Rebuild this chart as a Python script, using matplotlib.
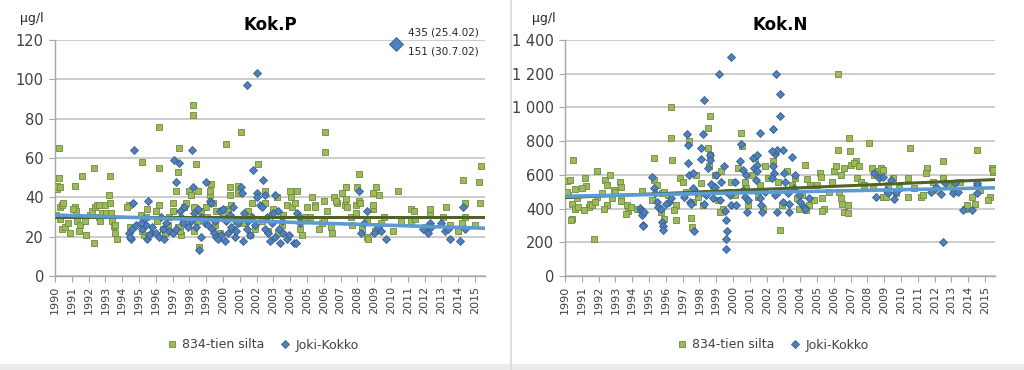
import numpy as np
import matplotlib
matplotlib.use("Agg")
import matplotlib.pyplot as plt
from matplotlib.ticker import FuncFormatter
from matplotlib.lines import Line2D
from matplotlib.patches import Rectangle

# Kok.P, 834-tien silta (year, ug/l)
p_silta = [
    (1990.05, 31), (1990.1, 44), (1990.12, 46), (1990.25, 65), (1990.25, 50), (1990.3, 45),
    (1990.3, 35), (1990.4, 36), (1990.5, 37), (1990.3, 29), (1990.4, 24), (1990.6, 25),
    (1990.8, 27), (1990.9, 22), (1991.2, 35), (1991.25, 33), (1991.2, 46), (1991.6, 51),
    (1991.1, 34), (1991.3, 28), (1991.5, 26), (1991.45, 23), (1991.8, 28), (1991.85, 21),
    (1992.1, 31), (1992.2, 33), (1992.4, 35), (1992.3, 55), (1992.35, 17), (1992.6, 30),
    (1992.65, 28), (1992.5, 36), (1992.62, 36), (1992.8, 32), (1993.0, 36), (1993.05, 32),
    (1993.2, 41), (1993.25, 51), (1993.25, 37), (1993.4, 28), (1993.5, 25.5), (1993.6, 22),
    (1993.7, 19), (1993.55, 26), (1993.35, 32), (1994.4, 36), (1994.45, 25), (1994.3, 35),
    (1995.2, 58), (1995.1, 31), (1995.25, 26), (1995.4, 30), (1995.3, 21), (1995.5, 34),
    (1995.15, 23), (1996.2, 76), (1996.2, 55), (1996.22, 36), (1996.0, 33), (1996.1, 28),
    (1996.4, 24), (1996.7, 26), (1996.55, 22), (1996.8, 30), (1997.0, 33), (1997.05, 37),
    (1997.2, 43), (1997.4, 65), (1997.35, 53), (1997.5, 21), (1997.45, 23), (1997.7, 35),
    (1997.8, 37), (1997.3, 25), (1997.6, 28), (1998.0, 43), (1998.1, 41), (1998.2, 87),
    (1998.2, 82), (1998.4, 57), (1998.3, 35), (1998.25, 23), (1998.5, 43), (1998.7, 33),
    (1998.6, 15), (1998.45, 28), (1999.0, 35), (1999.05, 30), (1999.2, 41), (1999.22, 43),
    (1999.4, 37), (1999.6, 33), (1999.3, 47), (1999.5, 26), (1999.8, 22), (2000.2, 67),
    (2000.4, 45), (2000.42, 41), (2000.0, 31), (2000.3, 34), (2000.5, 36), (2000.8, 28),
    (2000.9, 46), (2000.92, 42), (2000.6, 24), (2001.1, 73), (2001.3, 30), (2001.5, 33),
    (2001.7, 37), (2001.9, 24), (2001.2, 27), (2001.6, 21), (2002.1, 57), (2002.5, 43),
    (2002.52, 37), (2002.9, 31), (2002.3, 28), (2002.7, 23), (2003.0, 34), (2003.2, 40),
    (2003.5, 26), (2003.55, 31), (2003.3, 22), (2003.8, 36), (2004.0, 43), (2004.05, 40),
    (2004.1, 35), (2004.4, 43), (2004.3, 37), (2004.9, 30), (2004.6, 24), (2004.7, 21),
    (2005.0, 35), (2005.3, 40), (2005.45, 36), (2005.5, 35), (2005.7, 24), (2005.2, 30),
    (2005.9, 27), (2006.1, 73), (2006.1, 63), (2006.0, 38), (2006.02, 28), (2006.2, 33),
    (2006.6, 40), (2006.8, 37), (2006.7, 38), (2006.4, 25), (2006.5, 22), (2007.1, 42),
    (2007.35, 45), (2007.3, 39), (2007.25, 36), (2007.4, 35), (2007.6, 30), (2007.9, 36),
    (2007.92, 32), (2007.7, 26), (2008.1, 52), (2008.0, 45), (2008.12, 38), (2008.15, 37),
    (2008.3, 24), (2008.6, 28), (2008.9, 34), (2008.6, 20), (2008.65, 19), (2008.9, 42),
    (2008.95, 36), (2009.1, 45), (2009.3, 41), (2009.05, 23), (2009.4, 27), (2009.6, 30),
    (2010.4, 43), (2010.1, 23), (2010.6, 28), (2011.2, 34), (2011.35, 33), (2011.22, 28),
    (2011.4, 29), (2012.3, 34), (2012.35, 31), (2012.0, 25), (2013.25, 35), (2013.1, 30),
    (2013.5, 26), (2014.3, 49), (2014.4, 37), (2014.42, 30), (2014.0, 23), (2014.2, 27),
    (2015.35, 56), (2015.25, 48), (2015.27, 37), (2015.0, 26),
]

# Kok.P, Joki-Kokko
p_kokko = [
    (1994.4, 22), (1994.5, 19), (1994.45, 20), (1994.6, 24), (1994.62, 37), (1994.7, 64),
    (1994.8, 26), (1995.2, 24), (1995.5, 19), (1995.7, 22), (1995.4, 26), (1995.3, 29),
    (1995.52, 38), (1995.6, 21), (1995.1, 27), (1995.8, 25), (1996.0, 22), (1996.2, 20),
    (1996.4, 24), (1996.6, 27), (1996.3, 30), (1996.5, 19), (1996.8, 23), (1997.0, 22),
    (1997.2, 24), (1997.1, 59), (1997.4, 57.5), (1997.22, 48), (1997.42, 33), (1997.5, 30),
    (1997.6, 27), (1997.7, 35), (1997.9, 25), (1998.15, 64), (1998.2, 45), (1998.3, 32),
    (1998.1, 28), (1998.4, 25), (1998.55, 13), (1998.5, 34), (1998.7, 30), (1998.72, 20),
    (1998.9, 27), (1999.0, 48), (1999.2, 38), (1999.3, 37), (1999.1, 26), (1999.32, 24),
    (1999.45, 22), (1999.6, 20), (1999.7, 19), (1999.8, 33), (1999.5, 28), (1999.9, 21),
    (2000.0, 34), (2000.1, 18), (2000.3, 22), (2000.2, 28), (2000.4, 31), (2000.5, 25),
    (2000.7, 20), (2000.6, 35), (2000.8, 23), (2000.9, 27), (2001.1, 45), (2001.15, 42),
    (2001.25, 32), (2001.2, 18), (2001.4, 24), (2001.5, 28), (2001.45, 97), (2001.8, 54),
    (2001.6, 21), (2001.9, 26), (2001.7, 30), (2002.0, 103), (2002.02, 42), (2002.05, 40),
    (2002.4, 49), (2002.2, 36), (2002.5, 41), (2002.3, 35), (2002.52, 24), (2002.7, 22),
    (2002.8, 18), (2002.6, 30), (2002.9, 27), (2003.1, 41), (2003.0, 32), (2003.12, 20),
    (2003.3, 33), (2003.32, 24), (2003.4, 17), (2003.6, 22), (2003.5, 28), (2003.8, 19),
    (2003.9, 21), (2004.2, 17), (2004.4, 32), (2004.5, 30), (2004.6, 27), (2004.35, 17),
    (2008.1, 43), (2008.6, 33), (2008.2, 22), (2008.4, 27), (2009.0, 22), (2009.4, 23),
    (2009.7, 19), (2009.2, 25), (2011.9, 24), (2012.2, 22), (2012.3, 27), (2012.4, 25),
    (2013.0, 27), (2013.2, 23), (2013.5, 19), (2013.4, 24), (2014.1, 18), (2014.3, 35),
    (2014.4, 24),
]

# Kok.N, 834-tien silta
n_silta = [
    (1990.1, 562), (1990.3, 570), (1990.5, 690), (1990.6, 517), (1990.4, 425), (1990.6, 395),
    (1990.8, 410), (1990.4, 340), (1990.35, 330), (1990.2, 480), (1990.1, 500), (1990.7, 460),
    (1991.2, 583), (1991.22, 532), (1991.4, 410), (1991.5, 430), (1991.6, 420), (1991.7, 217),
    (1991.9, 620), (1991.0, 520), (1991.92, 470), (1991.1, 390), (1991.8, 440), (1992.4, 570),
    (1992.7, 600), (1992.5, 540), (1992.52, 420), (1992.2, 490), (1992.9, 510), (1992.3, 400),
    (1992.8, 460), (1993.3, 555), (1993.32, 525), (1993.34, 470), (1993.35, 445), (1993.7, 420),
    (1993.72, 385), (1993.0, 500), (1993.6, 370), (1993.9, 410), (1994.6, 503), (1994.3, 400),
    (1995.3, 700), (1995.32, 570), (1995.5, 540), (1995.8, 490), (1995.9, 500), (1995.2, 450),
    (1995.7, 380), (1995.92, 340), (1996.3, 1000), (1996.32, 820), (1996.34, 690), (1996.6, 420),
    (1996.62, 330), (1996.85, 580), (1996.1, 480), (1996.5, 390), (1997.4, 800), (1997.5, 345),
    (1997.55, 290), (1997.0, 560), (1997.2, 500), (1997.6, 440), (1997.8, 600), (1997.9, 470),
    (1998.65, 950), (1998.5, 880), (1998.52, 760), (1998.6, 720), (1998.54, 650), (1998.1, 550),
    (1998.3, 490), (1998.2, 420), (1998.9, 600), (1998.8, 530), (1999.4, 400), (1999.1, 450),
    (1999.7, 500), (1999.9, 560), (1999.3, 620), (1999.2, 380), (2000.5, 850), (2000.52, 770),
    (2000.3, 640), (2000.7, 560), (2000.1, 480), (2000.9, 420), (2000.8, 520), (2001.3, 700),
    (2001.1, 600), (2001.6, 540), (2001.5, 470), (2001.8, 400), (2001.9, 650), (2002.4, 680),
    (2002.1, 580), (2002.6, 500), (2002.9, 420), (2002.8, 270), (2002.7, 560), (2003.2, 620),
    (2003.5, 540), (2003.8, 460), (2003.9, 400), (2003.7, 580), (2004.3, 660), (2004.4, 575),
    (2004.6, 540), (2004.5, 420), (2004.32, 390), (2004.1, 480), (2004.8, 450), (2005.2, 610),
    (2005.25, 590), (2005.0, 540), (2005.3, 460), (2005.4, 400), (2005.32, 385), (2005.7, 500),
    (2005.9, 560), (2006.25, 1200), (2006.27, 750), (2006.0, 620), (2006.1, 650), (2006.4, 600),
    (2006.6, 640), (2006.3, 500), (2006.45, 460), (2006.5, 430), (2006.62, 380), (2006.85, 420),
    (2006.87, 375), (2006.9, 820), (2006.95, 740), (2007.0, 660), (2007.3, 680), (2007.2, 670),
    (2007.5, 650), (2007.4, 580), (2007.6, 560), (2007.8, 540), (2008.1, 790), (2008.3, 640),
    (2008.4, 600), (2008.6, 620), (2008.8, 640), (2008.95, 630), (2008.32, 520), (2008.9, 470),
    (2009.1, 470), (2009.2, 540), (2009.5, 580), (2009.7, 490), (2009.9, 520), (2010.55, 760),
    (2010.4, 580), (2010.42, 470), (2010.8, 520), (2011.55, 640), (2011.5, 610), (2011.2, 470),
    (2011.3, 480), (2011.9, 560), (2012.5, 680), (2012.52, 580), (2012.2, 510), (2012.8, 540),
    (2013.1, 520), (2013.8, 400), (2013.9, 420), (2013.5, 560), (2014.5, 750), (2014.7, 510),
    (2014.4, 430), (2014.2, 470), (2015.4, 640), (2015.45, 615), (2015.5, 630), (2015.3, 470),
    (2015.15, 450),
]

# Kok.N, Joki-Kokko
n_kokko = [
    (1994.45, 405), (1994.5, 385), (1994.6, 360), (1994.7, 380), (1994.62, 305), (1994.65, 295),
    (1995.15, 590), (1995.3, 520), (1995.35, 490), (1995.5, 440), (1995.55, 410), (1995.8, 320),
    (1995.82, 295), (1995.85, 270), (1995.7, 400), (1996.2, 440), (1996.3, 460), (1996.0, 430),
    (1997.25, 840), (1997.3, 780), (1997.32, 670), (1997.4, 600), (1997.1, 470), (1997.42, 440),
    (1997.5, 430), (1997.65, 266), (1997.8, 500), (1997.6, 520), (1997.62, 610), (1998.25, 1045),
    (1998.2, 840), (1998.1, 760), (1998.12, 695), (1998.6, 720), (1998.62, 690), (1998.5, 640),
    (1998.7, 545), (1998.9, 525), (1998.4, 480), (1998.3, 430), (1998.8, 460), (1999.15, 1200),
    (1999.45, 650), (1999.2, 453), (1999.5, 384), (1999.6, 335), (1999.62, 266), (1999.6, 217),
    (1999.58, 162), (1999.3, 560), (1999.8, 480), (1999.9, 420), (1999.0, 600), (1999.9, 1300),
    (2000.5, 785), (2000.4, 680), (2000.6, 630), (2000.8, 600), (2000.62, 510), (2000.7, 470),
    (2000.82, 380), (2000.2, 420), (2000.1, 560), (2000.9, 450), (2001.6, 850), (2001.2, 700),
    (2001.22, 640), (2001.4, 720), (2001.42, 660), (2001.45, 620), (2001.38, 570), (2001.62, 460),
    (2001.65, 420), (2001.7, 380), (2001.9, 500), (2002.4, 870), (2002.55, 1200), (2002.5, 725),
    (2002.6, 750), (2002.3, 740), (2002.35, 650), (2002.42, 610), (2002.32, 580), (2002.52, 480),
    (2002.62, 380), (2002.95, 440), (2002.8, 1080), (2002.82, 950), (2003.0, 750), (2003.5, 705),
    (2003.02, 610), (2003.1, 560), (2003.3, 490), (2003.32, 430), (2003.35, 380), (2003.6, 520),
    (2004.0, 440), (2004.2, 410), (2003.7, 600), (2003.9, 480), (2004.3, 400), (2004.5, 460),
    (2008.4, 610), (2008.7, 580), (2008.9, 590), (2008.5, 470), (2009.1, 510), (2009.2, 490),
    (2009.4, 570), (2009.7, 500), (2009.6, 455), (2011.8, 500), (2012.1, 530), (2012.4, 485),
    (2012.5, 200), (2012.6, 550), (2013.1, 490), (2013.2, 550), (2013.4, 500), (2013.7, 390),
    (2014.2, 390), (2014.5, 490), (2014.55, 540), (2014.52, 550),
]

# trend lines, value at start and end of the axis
trend_years = [1990.0, 2015.6]
p_trend_silta = [30.0, 30.0]
p_trend_kokko = [31.0, 24.3]
n_trend_silta = [465, 572]
n_trend_kokko = [473, 523]

# clipped Kok.P outliers marker
p_outlier = (2010.3, 118)
p_outlier_text = ["435 (25.4.02)", "151 (30.7.02)"]

years = list(range(1990, 2016))

GREEN = "#9BBB59"
GREEN_EDGE = "#71893F"
BLUE = "#4F81BD"
BLUE_EDGE = "#385D8A"
GREEN_TREND = "#4F6228"
BLUE_TREND = "#5B9BD5"
GRID = "#BFBFBF"
TXT = "#404040"

fig = plt.figure(figsize=(10.24, 3.70), dpi=100)
fig.patch.set_facecolor("white")


def draw_panel(ax, silta, kokko, t_silta, t_kokko, ymax, ystep, title, fmt):
    x, y = zip(*silta)
    ax.plot(x, y, linestyle="none", marker="s", markersize=5, markerfacecolor=GREEN,
            markeredgecolor=GREEN_EDGE, markeredgewidth=0.6, zorder=3, label="834-tien silta")
    x, y = zip(*kokko)
    ax.plot(x, y, linestyle="none", marker="D", markersize=4.0, markerfacecolor=BLUE,
            markeredgecolor=BLUE_EDGE, markeredgewidth=0.6, zorder=4, label="Joki-Kokko")
    ax.plot(trend_years, t_silta, color=GREEN_TREND, lw=2.2, zorder=5, solid_capstyle="butt")
    ax.plot(trend_years, t_kokko, color=BLUE_TREND, lw=2.6, zorder=5, solid_capstyle="butt")

    ax.set_xlim(1990, 2015.6)
    ax.set_ylim(0, ymax)
    ax.set_yticks(np.arange(0, ymax + 1, ystep))
    ax.yaxis.set_major_formatter(FuncFormatter(fmt))
    ax.set_xticks(years)
    ax.set_xticklabels([str(v) for v in years], rotation=90, fontsize=8, color=TXT)
    ax.tick_params(axis="y", labelsize=10.5, colors=TXT, length=4, color="#A6A6A6", pad=4)
    ax.tick_params(axis="x", length=4, color="#A6A6A6", pad=3)
    ax.grid(axis="y", color=GRID, lw=1.1)
    ax.set_axisbelow(True)
    for s in ["top", "right"]:
        ax.spines[s].set_visible(False)
    for s in ["left", "bottom"]:
        ax.spines[s].set_color("#A6A6A6")
        ax.spines[s].set_linewidth(1.0)
    ax.set_title(title, fontsize=12, fontweight="bold", color="black", pad=7)


axL = fig.add_axes([0.0537, 0.254, 0.42, 0.638])
draw_panel(axL, p_silta, p_kokko, p_trend_silta, p_trend_kokko, 120, 20, "Kok.P",
           lambda v, pos: f"{int(v)}")
axL.plot([p_outlier[0]], [p_outlier[1]], linestyle="none", marker="D", markersize=7,
         markerfacecolor=BLUE, markeredgecolor=BLUE_EDGE, markeredgewidth=0.6,
         zorder=6, clip_on=False)
axL.text(2011.0, 121.5, p_outlier_text[0], fontsize=7.5, color="#262626", ha="left", va="bottom")
axL.text(2011.0, 116.5, p_outlier_text[1], fontsize=7.5, color="#262626", ha="left", va="top")

axR = fig.add_axes([0.5518, 0.254, 0.42, 0.638])
draw_panel(axR, n_silta, n_kokko, n_trend_silta, n_trend_kokko, 1400, 200, "Kok.N",
           lambda v, pos: f"{int(v):,}".replace(",", " "))

# unit labels
fig.text(0.020, 0.95, "\u00b5g/l", fontsize=9, color="#262626", ha="left", va="center")
fig.text(0.520, 0.95, "\u00b5g/l", fontsize=9, color="#262626", ha="left", va="center")

# legends below each panel
for ax, cx in [(axL, 0.256), (axR, 0.754)]:
    h, l = ax.get_legend_handles_labels()
    fig.legend(h, l, loc="center", bbox_to_anchor=(cx, 1 - 345 / 370), ncol=2, frameon=False,
               fontsize=9, handletextpad=0.3, columnspacing=1.2, handlelength=1.0,
               labelcolor=TXT)

# panel separator and bottom strip
fig.add_artist(Line2D([511 / 1024, 511 / 1024], [0, 1], color="#D9D9D9", lw=1.2))
fig.add_artist(Rectangle((0, 0), 1, 6 / 370, facecolor="#EBEBEB", edgecolor="none"))

fig.savefig("out.png", dpi=100, facecolor="white")
